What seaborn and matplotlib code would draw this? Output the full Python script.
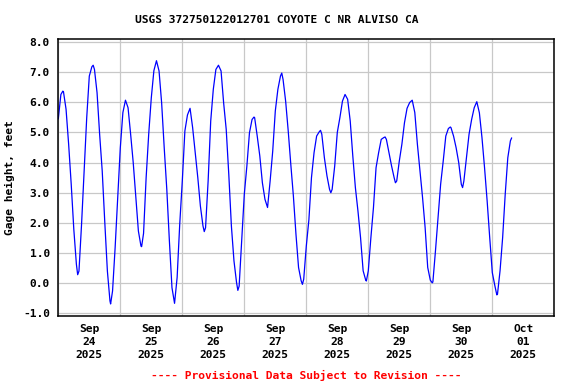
import numpy as np
import pandas as pd
import matplotlib
matplotlib.use("Agg")
import matplotlib.pyplot as plt
import matplotlib.dates as mdates
import seaborn as sns

# ---- data ----
start = "2025-09-24 00:00"
hours = [0, 1, 1.75, 2, 3, 4, 5, 6, 7, 7.5, 8, 9, 10, 11, 12, 13, 13.5, 14, 15, 16,
         17, 18, 19, 20, 20.25, 21, 22, 23, 24, 25, 26, 27, 28, 29, 30, 31, 32, 32.25,
         33, 34, 35, 36, 37, 38, 39, 40, 41, 42, 43, 44, 45, 46, 47, 48, 49, 50, 51,
         52, 53, 54, 55, 56, 56.5, 57, 58, 59, 60, 61, 62, 63, 64, 65, 66, 67, 68, 69,
         69.5, 70, 71, 72, 73, 74, 75, 75.75, 76, 77, 78, 79, 80, 81, 82, 83, 84, 85,
         86, 86.5, 87, 88, 89, 90, 91, 92, 93, 94, 94.5, 95, 96, 97, 98, 99, 100, 101,
         101.5, 102, 103, 104, 105, 105.5, 106, 107, 108, 109, 110, 111, 112, 113, 114,
         115, 116, 117, 118, 119, 119.25, 120, 121, 122, 123, 124, 125, 126, 126.5, 127,
         128, 129, 130, 130.5, 131, 132, 133, 134, 135, 136, 137, 138, 139, 140, 141,
         142, 143, 144, 144.75, 145, 146, 147, 148, 149, 150, 151, 151.75, 152, 153,
         154, 155, 156, 156.5, 157, 158, 159, 160, 161, 162, 163, 164, 165, 166, 167,
         168, 169, 169.75, 170, 171, 172, 173, 174, 175, 175.5]
gage_ft = [5.45, 6.26, 6.37, 6.35, 5.77, 4.61, 3.28, 1.79, 0.63, 0.28, 0.40, 1.95, 3.72,
           5.49, 6.87, 7.18, 7.23, 7.09, 6.32, 4.94, 3.72, 2.01, 0.40, -0.59, -0.69, -0.26,
           1.18, 2.84, 4.49, 5.66, 6.07, 5.82, 4.94, 4.00, 2.84, 1.73, 1.23, 1.21,
           1.65, 3.50, 4.95, 6.15, 7.05, 7.38, 7.04, 5.98, 4.49, 3.11, 1.40, -0.15, -0.67,
           0.19, 1.95, 3.39, 5.05, 5.58, 5.80, 5.16, 4.33, 3.50, 2.56, 1.90, 1.71, 1.84,
           3.39, 5.38, 6.43, 7.09, 7.23, 7.04, 5.98, 5.10, 3.60, 1.90, 0.74, 0.02,
           -0.24, -0.10, 1.40, 2.95, 3.89, 4.99, 5.43, 5.51, 5.49, 4.88, 4.22, 3.33, 2.78,
           2.51, 3.39, 4.38, 5.71, 6.43, 6.87, 6.97, 6.76, 6.04, 5.05, 3.94, 2.89, 1.62,
           0.52, 0.08, -0.04, 0.13, 1.23, 2.10, 3.50, 4.33, 4.88, 5.02,
           5.07, 4.94, 4.16, 3.56, 3.11, 3.00, 3.11, 3.89, 5.00, 5.49, 6.04, 6.26, 6.10,
           5.38, 4.22, 3.17, 2.39, 1.51, 0.41, 0.10, 0.07, 0.41, 1.51, 2.51, 3.83, 4.33,
           4.77, 4.83, 4.85, 4.77, 4.33, 3.89, 3.50, 3.33, 3.39, 4.05, 4.61, 5.32, 5.80,
           5.99, 6.07, 5.66, 4.61, 3.72, 2.84, 1.84, 0.52, 0.10, 0.01, 0.04, 1.07, 2.17,
           3.28, 4.05, 4.88, 5.13, 5.18, 5.16, 4.88, 4.49, 4.00, 3.28, 3.17, 3.39, 4.16,
           4.94, 5.43, 5.82, 6.02, 5.65, 4.83, 3.83, 2.73, 1.51, 0.35, -0.09, -0.39,
           -0.37, 0.41, 1.51, 2.95, 4.16, 4.72, 4.82]
y_ticks = [-1.0, 0.0, 1.0, 2.0, 3.0, 4.0, 5.0, 6.0, 7.0, 8.0]
title = "USGS 372750122012701 COYOTE C NR ALVISO CA"
y_label = "Gage height, feet"
footer = "---- Provisional Data Subject to Revision ----"

df = pd.DataFrame({
    "time": pd.Timestamp(start) + pd.to_timedelta(hours, unit="h"),
    "gage": gage_ft,
})

sns.set_theme(style="white")
plt.rcParams["font.family"] = ["DejaVu Sans Mono", "DejaVu Sans"]
plt.rcParams["font.weight"] = "bold"
plt.rcParams["axes.unicode_minus"] = False
plt.rcParams["text.color"] = "black"
plt.rcParams["axes.labelcolor"] = "black"
plt.rcParams["xtick.color"] = "black"
plt.rcParams["ytick.color"] = "black"

fig = plt.figure(figsize=(5.76, 3.84), dpi=100)
ax = fig.add_axes([58.3 / 576, 1 - 316 / 384, (554.3 - 58.3) / 576, (316 - 39.3) / 384])

sns.lineplot(data=df, x="time", y="gage", ax=ax, color="#0000ff", linewidth=0.9)

ax.set_xlim(pd.Timestamp("2025-09-24"), pd.Timestamp("2025-10-02"))
ax.set_ylim(-1.09, 8.09)

ax.set_yticks(y_ticks)
ax.set_yticklabels([f"{v:.1f}" for v in y_ticks], fontsize=8.1, fontweight="bold",
                   color="black")

ax.xaxis.set_major_locator(mdates.DayLocator())
ax.xaxis.set_major_formatter(plt.NullFormatter())
ax.xaxis.set_minor_locator(mdates.HourLocator(byhour=[12]))
ax.xaxis.set_minor_formatter(mdates.DateFormatter("%b\n%d\n%Y"))
for lab in ax.xaxis.get_minorticklabels():
    lab.set_fontsize(8.1)
    lab.set_fontweight("bold")
    lab.set_linespacing(1.35)
    lab.set_color("black")

ax.tick_params(axis="both", which="both", length=0, colors="black")
ax.tick_params(axis="x", which="minor", pad=6)
ax.tick_params(axis="y", which="major", pad=6)

ax.grid(True, which="major", axis="both", color="#c8c8c8", linewidth=0.9)
ax.grid(False, which="minor")
for sp in ax.spines.values():
    sp.set_color("black")
    sp.set_linewidth(1.1)

ax.set_xlabel("")
ax.set_ylabel(y_label, fontsize=8.1, fontweight="bold", color="black")
ax.yaxis.set_label_coords(-0.088, 0.5)

fig.text(277 / 576, 1 - 20 / 384, title, ha="center", va="center",
         fontsize=8.1, fontweight="bold", color="black")
fig.text(306 / 576, 1 - 375 / 384, footer, ha="center", va="center",
         fontsize=8.1, fontweight="bold", color="red")

fig.savefig("out.png", dpi=100, facecolor="white")
